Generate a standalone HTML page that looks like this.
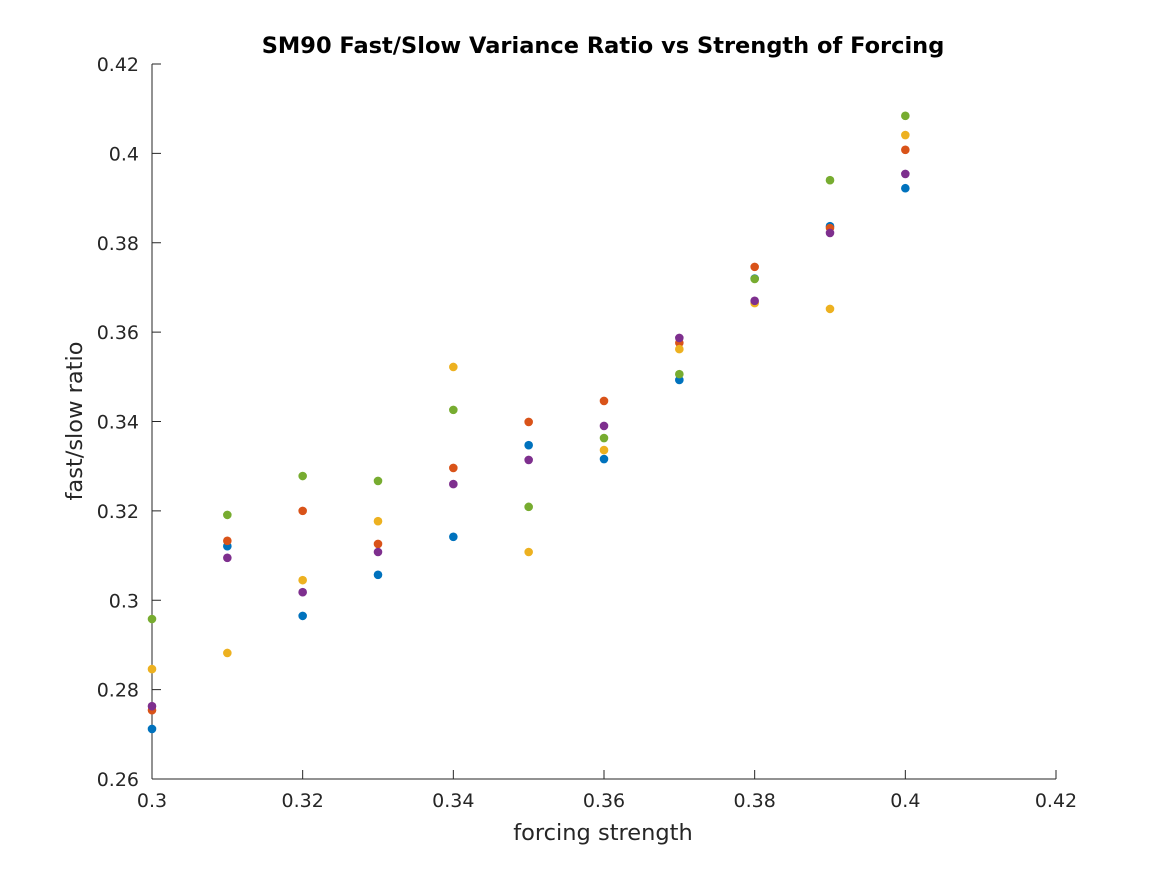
<!DOCTYPE html>
<html><head><meta charset="utf-8"><style>
body{margin:0;background:#fff;}
svg{display:block;font-family:"DejaVu Sans","Liberation Sans",sans-serif;}
</style></head><body>
<svg id="chart" width="1167" height="875" viewBox="0 0 1167 875">
<rect width="1167" height="875" fill="#fff"/>
<text x="603" y="53" text-anchor="middle" font-size="22.5" font-weight="bold" fill="#000">SM90 Fast/Slow Variance Ratio vs Strength of Forcing</text>
<g id="axes"></g>
<g id="points"></g>
<text x="603" y="840" text-anchor="middle" font-size="22.5" fill="#262626">forcing strength</text>
<text transform="translate(82,421) rotate(-90)" text-anchor="middle" font-size="22.5" fill="#262626">fast/slow ratio</text>
</svg>
<script>
const xCats = [0.30,0.31,0.32,0.33,0.34,0.35,0.36,0.37,0.38,0.39,0.40];
const seriesBlue   = [0.2712,0.3121,0.2965,0.3057,0.3142,0.3347,0.3316,0.3493,0.3720,0.3837,0.3922];
const seriesOrange = [0.2754,0.3133,0.3200,0.3126,0.3296,0.3399,0.3446,0.3576,0.3746,0.3833,0.4008];
const seriesYellow = [0.2846,0.2882,0.3045,0.3177,0.3522,0.3108,0.3336,0.3562,0.3665,0.3652,0.4041];
const seriesPurple = [0.2763,0.3095,0.3018,0.3108,0.3260,0.3314,0.3390,0.3587,0.3670,0.3822,0.3954];
const seriesGreen  = [0.2958,0.3191,0.3278,0.3267,0.3426,0.3209,0.3363,0.3506,0.3719,0.3940,0.4084];
const xTicks = ["0.3","0.32","0.34","0.36","0.38","0.4","0.42"];
const yTicks = ["0.26","0.28","0.3","0.32","0.34","0.36","0.38","0.4","0.42"];

const NS="http://www.w3.org/2000/svg";
const X0=152,X1=1056,Y0=779,Y1=64;
const xMin=0.3,xMax=0.42,yMin=0.26,yMax=0.42;
function sx(v){return X0+(v-xMin)/(xMax-xMin)*(X1-X0);}
function sy(v){return Y0-(v-yMin)/(yMax-yMin)*(Y0-Y1);}
function mk(tag,attrs,parent){const e=document.createElementNS(NS,tag);for(const k in attrs)e.setAttribute(k,attrs[k]);parent.appendChild(e);return e;}
const axes=document.getElementById('axes');
let l=mk('line',{x1:X0,y1:Y0,x2:X1,y2:Y0,stroke:'#262626','stroke-width':1},axes);


l=mk('line',{x1:X0,y1:Y0,x2:X0,y2:Y1,stroke:'#262626','stroke-width':1},axes);


xTicks.forEach(t=>{const x=sx(parseFloat(t));
 mk('line',{x1:x,y1:Y0,x2:x,y2:Y0-9,stroke:'#262626'},axes);
 const tx=mk('text',{x:x,y:Y0+28,'text-anchor':'middle','font-size':19,fill:'#262626'},axes);tx.textContent=t;
 
 
});
yTicks.forEach(t=>{const y=sy(parseFloat(t));
 mk('line',{x1:X0,y1:y,x2:X0+9,y2:y,stroke:'#262626'},axes);
 const tx=mk('text',{x:X0-13,y:y+7,'text-anchor':'end','font-size':19,fill:'#262626'},axes);tx.textContent=t;
 
 
});
const pts=document.getElementById('points');
const series=[[seriesBlue,'#0072BD','blue'],[seriesOrange,'#D95319','orange'],[seriesYellow,'#EDB120','yellow'],[seriesPurple,'#7E2F8E','purple'],[seriesGreen,'#77AC30','green']];
series.forEach(([vals,col,nm])=>{
 vals.forEach((v,i)=>{
  const c=mk('circle',{cx:sx(xCats[i]),cy:sy(v),r:4.3,fill:col},pts);
  
  
 });
});
</script>
</body></html>
